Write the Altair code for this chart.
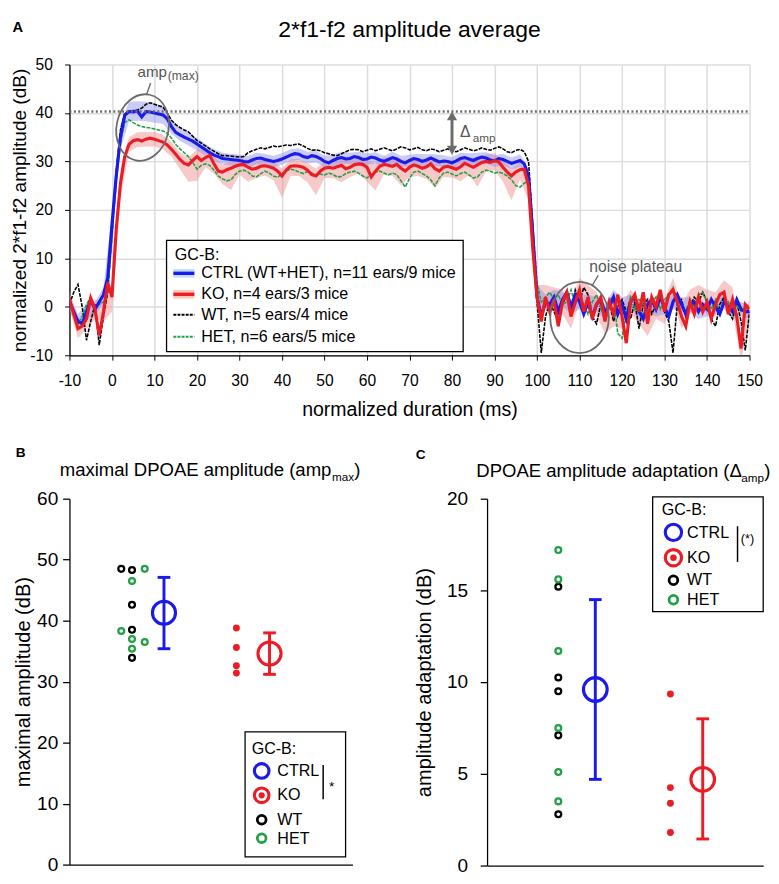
import altair as alt
import pandas as pd

FONT = "Liberation Sans"
BLUE = "#1a1aeb"
RED = "#ec1c24"
GREEN = "#21a045"
GRAY = "#6b6b6b"
TXTGRAY = "#555555"

# ---------------- Panel A data (1 ms steps, -10 .. 150 ms) ----------------
t_ms = list(range(-10, 151))
ctrl_db = [
    1.0, -1.0, -3.0, -3.5, -1.0, 1.5, -0.5, 1.0, 2.5, 6.0,
    17.0, 27.0, 35.0, 39.5, 40.3, 40.2, 40.4, 39.2, 40.3, 40.2,
    40.0, 39.8, 39.6, 38.8, 37.2, 36.0, 35.5, 35.0, 34.6, 34.2,
    33.6, 33.0, 32.4, 31.8, 31.3, 31.0, 30.6, 30.5, 30.4, 30.3,
    30.2, 30.0, 29.9, 30.3, 30.6, 30.7, 30.4, 30.2, 30.0, 30.2,
    30.5, 30.9, 31.3, 31.6, 31.5, 31.0, 30.8, 31.2, 31.0, 30.6,
    30.0, 29.7, 30.2, 30.6, 30.8, 30.5, 30.6, 31.0, 30.8, 30.4,
    30.5, 30.9, 30.7, 30.3, 30.0, 30.4, 30.8, 30.5, 30.0, 29.7,
    30.2, 30.6, 30.4, 30.0, 30.3, 30.7, 30.3, 29.9, 30.1, 30.0,
    29.7, 30.1, 30.6, 30.8, 30.5, 30.2, 30.6, 30.9, 30.7, 30.3,
    30.1, 30.6, 30.4, 30.0, 29.6, 29.9, 30.2, 29.5, 27.0, 15.0,
    2.0, -2.0, 1.0, 0.5, 2.0, -1.0, 1.5, 3.0, 0.0, 2.5,
    1.0, -1.5, 1.0, -2.0, 0.5, 1.5, -1.0, 0.0, 2.0, -1.5,
    0.5, -2.5, 1.0, 2.0, -1.0, -2.5, 0.5, 1.5, -0.5, 2.0,
    0.0, -2.0, 1.0, 2.5, 0.5, -1.5, 0.5, 1.0, -1.0, 0.5,
    -0.5, 1.5, 0.0, -1.5, 1.0, 0.0, -1.0, 1.5, -0.5, -1.0,
    -1.0,
]
ko_db = [
    1.5, -1.5, -4.5, -4.0, -2.5, 1.8, -0.5, -5.9, -1.0, 5.0,
    2.0, 16.0, 25.5, 31.0, 33.5, 34.3, 34.5, 34.2, 34.6, 34.8,
    34.6, 34.3, 34.0, 33.4, 32.5, 31.5, 30.4, 29.6, 29.3, 30.2,
    31.0, 30.2, 30.8, 31.2, 29.5, 28.0, 27.8, 28.3, 28.6, 29.0,
    29.3, 29.4, 28.8, 28.4, 28.6, 29.0, 29.1, 28.9, 28.6, 28.0,
    27.0, 28.2, 29.0, 29.1, 29.0, 28.8, 28.2, 27.3, 27.0, 28.0,
    28.6, 28.8, 28.6, 28.9, 29.2, 28.5, 28.8, 29.3, 29.5, 29.4,
    28.8, 26.8, 28.0, 29.0, 29.4, 29.2, 29.0, 29.4, 28.6, 28.0,
    28.8, 29.3, 29.0, 28.6, 28.9, 29.5, 28.5, 28.0, 28.8, 29.0,
    28.7, 28.4, 28.9, 29.6, 29.2, 28.8, 29.3, 29.8, 30.0, 29.8,
    30.2, 29.9, 28.8, 27.8, 27.0, 27.8, 28.3, 28.4, 25.0, 12.0,
    2.0, -3.0, 2.0, -1.0, 1.5, -4.0, 1.0, 3.0, -2.0, 1.0,
    3.5, -1.0, 2.0, -2.5, 0.5, 2.0, -3.0, 1.0, -1.5, 2.5,
    -2.0, -7.5, 1.0, 2.5, -1.0, 3.0, -3.5, 2.0, 0.0, 3.5,
    -1.0, 2.5, 3.5, 1.0, -2.0, -4.0, 1.0, -1.5, 2.0, -1.0,
    1.0, -2.5, 0.5, 2.5, 3.0, -1.5, 1.5, -2.0, -8.6, 0.5,
    -0.5,
]
wt_db = [
    0.5, 3.0, 4.6, 0.0, -6.9, -3.0, 0.5, -7.9, -2.0, 3.0,
    15.0, 28.0, 36.5, 40.0, 40.3, 40.5, 40.6, 41.0, 41.8, 42.1,
    41.8, 41.5, 41.2, 40.0, 38.5, 37.6, 37.0, 36.5, 36.1, 35.2,
    34.3, 33.8, 33.2, 32.6, 32.1, 31.6, 31.2, 31.2, 31.1, 31.0,
    30.9, 31.0, 31.8, 32.2, 32.5, 32.8, 32.6, 32.9, 33.2, 33.0,
    33.2, 33.4, 33.3, 33.5, 33.6, 33.2, 32.7, 32.3, 32.4, 32.2,
    31.8, 31.6, 31.3, 31.2, 31.6, 32.0, 32.4, 32.5, 32.4, 32.0,
    32.3, 32.6, 32.2, 32.5, 32.8, 32.5, 32.2, 32.6, 33.0, 32.8,
    32.4, 32.6, 32.9, 32.4, 32.2, 32.6, 32.4, 32.0, 32.3, 32.6,
    32.2, 32.0, 32.4, 32.8, 32.5, 32.2, 32.4, 32.8, 32.5, 32.3,
    32.7, 33.0, 32.6, 32.0, 31.8, 32.3, 32.5, 32.0, 30.0, 17.0,
    1.0, -9.5, -2.0, 1.0, -1.0, -3.0, 0.5, 2.5, -1.0, 3.5,
    1.0, 4.0, 2.5, -2.0, -3.5, 0.5, -2.0, 1.0, -3.0, 0.0,
    1.5, -1.0, -2.5, 1.0, -4.5, 0.5, 1.5, -1.5, 0.5, 2.0,
    -1.0, -3.0, -9.5, 0.5, 1.5, -2.0, 0.0, 2.0, 1.0, 3.0,
    1.0, -2.5, -4.0, 0.5, 2.0, -1.0, -2.5, 1.0, -3.0, -9.0,
    -1.0,
]
het_db = [
    1.0, -1.0, -3.5, -2.0, 0.5, 2.0, 0.0, 0.5, 1.0, 3.5,
    14.0, 26.0, 34.0, 38.0, 38.6, 38.0, 37.5, 37.2, 37.0, 36.9,
    36.7, 36.5, 36.3, 35.8, 34.8, 33.5, 32.6, 31.8, 31.0, 29.8,
    28.4, 29.2, 29.5, 29.2, 28.2, 27.0, 26.4, 26.0, 26.2, 27.3,
    28.0, 28.2, 27.8, 27.0, 26.8, 27.5, 28.0, 27.6, 27.0, 26.7,
    27.5, 28.0, 28.4, 28.2, 27.8, 27.5, 27.9, 27.6, 27.2, 27.4,
    27.2, 27.6, 27.3, 26.8, 26.9, 27.5, 27.8, 28.0, 27.6, 27.0,
    26.6, 27.2, 27.8, 28.0, 27.6, 27.2, 27.6, 27.3, 26.0, 24.7,
    26.5, 27.8, 28.0, 27.5, 27.0, 26.2, 25.0, 26.6, 27.6, 27.8,
    27.4, 27.0, 27.5, 27.8, 27.2, 26.6, 26.8, 27.8, 28.2, 28.0,
    27.6, 27.8, 27.5, 27.0, 26.2, 25.0, 24.7, 25.5, 26.0, 17.0,
    5.0, 1.0, 2.0, 3.0, 1.5, 2.5, 0.5, 1.0, 3.5, 0.5,
    2.0, 0.5, -1.5, 1.0, 2.5, 0.0, -3.0, 1.5, 2.0, -5.5,
    -6.5, -1.0, 2.0, -0.5, 1.5, 0.5, -1.0, 1.0, 2.0, -0.5,
    1.5, 2.5, 4.0, 1.5, 0.5, -1.0, 1.5, 0.0, 2.5, 3.0,
    1.0, -0.5, 1.5, -1.0, 0.5, 1.0, -1.5, 0.5, -1.0, 0.0,
    -1.0,
]
# error bands (2 ms steps)
t_band = list(range(-10, 151, 2))
ctrl_sem = [
    1.5, 1.5, 1.5, 1.5, 1.5, 2.5, 2.5, 2.0, 2.0, 2.0,
    2.0, 1.8, 1.5, 1.3, 1.3, 1.3, 1.2, 1.2, 1.2, 1.2,
    1.2, 1.2, 1.2, 1.2, 1.2, 1.2, 1.2, 1.2, 1.2, 1.2,
    1.2, 1.2, 1.2, 1.2, 1.2, 1.2, 1.2, 1.2, 1.2, 1.2,
    1.2, 1.2, 1.2, 1.2, 1.2, 1.2, 1.2, 1.2, 1.2, 1.2,
    1.2, 1.2, 1.2, 1.3, 1.5, 2.5, 1.5, 1.5, 1.5, 1.5,
    1.5, 1.5, 1.5, 1.5, 1.5, 1.5, 1.5, 1.5, 1.5, 1.5,
    1.5, 1.5, 1.5, 1.5, 1.5, 1.5, 1.5, 1.5, 1.5, 1.5,
    1.5,
]
ko_sem_lo = [
    2.0, 2.0, 2.0, 2.0, 2.0, 3.0, 3.0, 1.5, 1.5, 1.5,
    1.5, 1.5, 1.5, 2.0, 3.5, 5.0, 2.0, 2.0, 2.5, 4.5,
    2.0, 3.0, 2.0, 2.0, 2.5, 4.5, 2.0, 2.0, 2.5, 4.0,
    2.0, 2.0, 3.5, 2.0, 2.0, 3.0, 4.0, 2.0, 2.0, 3.5,
    2.0, 2.0, 2.5, 4.0, 2.0, 2.0, 3.0, 2.0, 4.5, 2.0,
    2.0, 3.0, 5.0, 2.0, 3.0, 2.5, 2.5, 2.5, 2.5, 2.5,
    2.5, 2.5, 2.5, 2.5, 2.5, 2.5, 2.5, 2.5, 2.5, 2.5,
    2.5, 2.5, 2.5, 2.5, 2.5, 2.5, 2.5, 2.5, 2.5, 2.5,
    2.5,
]
ko_sem_hi = [
    2.0, 2.0, 2.0, 2.0, 2.0, 3.0, 3.0, 1.5, 1.5, 1.5,
    1.5, 1.5, 1.5, 1.5, 1.5, 1.5, 1.5, 1.5, 1.5, 1.5,
    1.5, 1.5, 1.5, 1.5, 1.5, 1.5, 1.5, 1.5, 1.5, 1.5,
    1.5, 1.5, 1.5, 1.5, 1.5, 1.5, 1.5, 1.5, 1.5, 1.5,
    1.5, 1.5, 1.5, 1.5, 1.5, 1.5, 1.5, 1.5, 1.5, 1.5,
    1.5, 1.5, 1.5, 1.5, 2.5, 2.5, 2.5, 2.5, 2.5, 2.5,
    2.5, 2.5, 2.5, 2.5, 2.5, 2.5, 2.5, 2.5, 2.5, 2.5,
    2.5, 2.5, 2.5, 2.5, 2.5, 2.5, 2.5, 2.5, 2.5, 2.5,
    2.5,
]
amp_max_level = 40.3

# ---------------- Panel B data ----------------
b_wt = [48.5, 48.3, 42.6, 38.5, 33.9]
b_wt_pos = [1.83, 2.21, 2.21, 2.21, 2.21]
b_het = [48.5, 46.5, 38.3, 37.0, 36.5, 35.4]
b_het_pos = [2.66, 2.21, 1.83, 2.21, 2.66, 2.21]
b_ko = [38.8, 35.6, 32.6, 31.4]
b_ko_pos = [5.9, 5.9, 5.9, 5.9]
b_means = [41.3, 34.6]
b_lo = [35.4, 31.2]
b_hi = [47.1, 38.0]
b_mean_pos = [3.34, 7.07]

# ---------------- Panel C data ----------------
c_wt = [15.2, 10.25, 9.5, 7.1, 2.8]
c_het = [17.2, 15.6, 11.7, 7.5, 5.1, 3.5]
c_ko = [9.35, 4.25, 3.4, 1.8]
c_grp_pos = [2.58, 6.64]
c_means = [9.6, 4.7]
c_lo = [4.7, 1.45]
c_hi = [14.5, 8.0]
c_mean_pos = [3.92, 7.81]

ONE = pd.DataFrame({"k": [0]})
HYPHEN = "'' + datum.value"


def ptext(txt, x, y, size, color="black", weight="normal", align="left", baseline="middle"):
    return alt.Chart(ONE).mark_text(text=txt, fontSize=size, fontWeight=weight, color=color,
                                    align=align, baseline=baseline, font=FONT).encode(
        x=alt.value(x), y=alt.value(y))


def prule(x1, x2, y1, y2, color, width, dash=None):
    kw = dict(color=color, strokeWidth=width)
    if dash:
        kw["strokeDash"] = dash
    return alt.Chart(ONE).mark_rule(**kw).encode(
        x=alt.value(x1), x2=alt.value(x2), y=alt.value(y1), y2=alt.value(y2))


def pbox(x1, x2, y1, y2):
    return alt.Chart(ONE).mark_rect(fill="white", stroke="black", strokeWidth=1.3).encode(
        x=alt.value(x1), x2=alt.value(x2), y=alt.value(y1), y2=alt.value(y2))


def pring(x, y, size, color, sw):
    return alt.Chart(ONE).mark_point(shape="circle", size=size, filled=False, color=color,
                                     strokeWidth=sw, opacity=1).encode(x=alt.value(x), y=alt.value(y))


def pdot(x, y, size, color):
    return alt.Chart(ONE).mark_circle(size=size, color=color, opacity=1).encode(
        x=alt.value(x), y=alt.value(y))


# ================= Panel A =================
sxA = alt.Scale(domain=[-10, 150], nice=False, zero=False)
syA = alt.Scale(domain=[-10, 50], nice=False, zero=False)
axA_x = alt.Axis(values=list(range(-10, 151, 10)), title="normalized duration (ms)",
                 labelFontSize=16, titleFontSize=20, titleFontWeight="normal",
                 tickSize=5, labelPadding=13, titlePadding=12, grid=True,
                 gridColor="#dcdcdc", gridWidth=1.5, domainColor="black", tickColor="black",
                 labelColor="black", titleColor="black", labelFlush=False, domainWidth=1.3,
                 labelExpr=HYPHEN)
axA_y = alt.Axis(values=list(range(-10, 51, 10)), title="normalized 2*f1-f2 amplitude (dB)",
                 labelFontSize=16, titleFontSize=19.5, titleFontWeight="normal",
                 tickSize=5, labelPadding=12.5, titlePadding=0, grid=True,
                 gridColor="#dcdcdc", gridWidth=1.5, domainColor="black", tickColor="black",
                 labelColor="black", titleColor="black", domainWidth=1.3, labelExpr=HYPHEN)
XA = alt.X("t:Q", scale=sxA, axis=axA_x)
YA = alt.Y("val:Q", scale=syA, axis=axA_y)


def series_df(vals):
    return pd.DataFrame({"t": t_ms, "val": vals})


ko_band = pd.DataFrame({"t": t_band,
                        "val": [v - s for v, s in zip(ko_db[::2], ko_sem_lo)],
                        "val2": [v + s for v, s in zip(ko_db[::2], ko_sem_hi)]})
ctrl_band = pd.DataFrame({"t": t_band,
                          "val": [v - s for v, s in zip(ctrl_db[::2], ctrl_sem)],
                          "val2": [v + s for v, s in zip(ctrl_db[::2], ctrl_sem)]})

layersA = [
    alt.Chart(ko_band).mark_area(color="#ee8888", opacity=0.45, clip=True).encode(x=XA, y=YA, y2="val2"),
    alt.Chart(ctrl_band).mark_area(color="#8c8cf0", opacity=0.45, clip=True).encode(x=XA, y=YA, y2="val2"),
    alt.Chart(series_df(wt_db)).mark_line(color="black", strokeWidth=1.6, strokeDash=[4, 1.2], clip=True).encode(x=XA, y=YA),
    alt.Chart(series_df(het_db)).mark_line(color=GREEN, strokeWidth=1.6, strokeDash=[4, 1.2], clip=True).encode(x=XA, y=YA),
    alt.Chart(series_df(ctrl_db)).mark_line(color=BLUE, strokeWidth=3.2, clip=True).encode(x=XA, y=YA),
    alt.Chart(series_df(ko_db)).mark_line(color=RED, strokeWidth=3.2, clip=True).encode(x=XA, y=YA),
]

# dotted amp(max) level line
layersA.append(alt.Chart(pd.DataFrame({"t": [-10], "t2": [150], "val": [amp_max_level]})).mark_rule(
    color=GRAY, strokeWidth=2.5, strokeDash=[2, 2.5]).encode(x=XA, x2="t2", y=YA))

AMP_ELLIPSE = "M0,-1A0.776,1,0,1,1,0,1A0.776,1,0,1,1,0,-1Z"
NOISE_ELLIPSE = "M0,-1A0.822,1,0,1,1,0,1A0.822,1,0,1,1,0,-1Z"
layersA.append(alt.Chart(pd.DataFrame({"t": [7.2], "val": [37.0]})).mark_point(
    shape=AMP_ELLIPSE, size=4720, filled=False, color=GRAY, strokeWidth=1.8, opacity=1, angle=12).encode(x=XA, y=YA))
layersA.append(alt.Chart(pd.DataFrame({"t": [110.0], "val": [-2.2]})).mark_point(
    shape=NOISE_ELLIPSE, size=5329, filled=False, color=GRAY, strokeWidth=1.8, opacity=1).encode(x=XA, y=YA))

# leader lines
layersA.append(alt.Chart(pd.DataFrame({"t": [9.1, 114.4], "t2": [8.1, 112.9],
                                       "val": [46.2, 6.5], "val2": [43.7, 4.3]})).mark_rule(
    color=GRAY, strokeWidth=1.4).encode(x=XA, x2="t2", y=YA, y2="val2"))

# delta amp arrow
layersA.append(alt.Chart(pd.DataFrame({"t": [80.0], "val": [39.4], "val2": [32.3]})).mark_rule(
    color=GRAY, strokeWidth=3).encode(x=XA, y=YA, y2="val2"))
layersA.append(alt.Chart(pd.DataFrame({"t": [80.0], "val": [39.4]})).mark_point(
    shape="triangle-up", size=110, filled=True, color=GRAY, opacity=1).encode(x=XA, y=YA))
layersA.append(alt.Chart(pd.DataFrame({"t": [80.0], "val": [32.3]})).mark_point(
    shape="triangle-down", size=110, filled=True, color=GRAY, opacity=1).encode(x=XA, y=YA))


def dtext(txt, t, v, size, color=TXTGRAY):
    return alt.Chart(pd.DataFrame({"t": [t], "val": [v]})).mark_text(
        text=txt, fontSize=size, color=color, align="left", baseline="alphabetic", font=FONT).encode(x=XA, y=YA)


layersA += [
    dtext("amp", 6.0, 47.4, 15.5),
    dtext("(max)", 13.1, 46.8, 12.5),
    dtext("\u0394", 81.9, 35.1, 16),
    dtext("amp", 84.9, 34.1, 12),
    dtext("noise plateau", 112.3, 7.1, 16),
]

# legend of panel A (pixel positions inside the plot)
layersA += [
    pbox(99.5, 403.5, 180.3, 294.3),
    ptext("GC-B:", 108, 195, 16.5),
    prule(106.5, 128, 214, 214, "#bfe3f5", 9),
    prule(106.5, 128, 214, 214, BLUE, 3.5),
    prule(106.5, 128, 235.5, 235.5, "#f8cab9", 9),
    prule(106.5, 128, 235.5, 235.5, RED, 3.5),
    prule(106.5, 128, 256.5, 256.5, "black", 2, [3, 1.2]),
    prule(106.5, 128, 279, 279, GREEN, 2, [3, 1.2]),
    ptext("CTRL (WT+HET), n=11 ears/9 mice", 135, 214, 16.5),
    ptext("KO, n=4 ears/3 mice", 135, 235.5, 16.5),
    ptext("WT, n=5 ears/4 mice", 135, 256.5, 16.5),
    ptext("HET, n=6 ears/5 mice", 135, 279, 16.5),
    ptext("2*f1-f2 amplitude average", 348.5, -27.7, 23.5, align="center", baseline="alphabetic"),
    ptext("A", -58.5, -33.7, 15, weight="bold", baseline="alphabetic"),
]

panelA = alt.layer(*layersA).properties(width=697, height=298)


# ================= Panels B and C =================
def dot_panel(wt, wt_pos, het, het_pos, ko, ko_pos, means, lo, hi, mean_pos,
              ydom, yvals, ytitle, lab_pad, title_pad, mean_size):
    sx = alt.Scale(domain=[0, 10], nice=False, zero=False)
    sy = alt.Scale(domain=ydom, nice=False, zero=False)
    ax_x = alt.Axis(labels=False, ticks=False, title=None, grid=False,
                    domainColor="black", domainWidth=1.3)
    ax_y = alt.Axis(values=yvals, grid=False, tickSize=7, tickColor="black", tickWidth=1.3,
                    domainColor="black", domainWidth=1.3, labelFontSize=19.5, labelPadding=lab_pad,
                    labelColor="black", title=ytitle, titleFontSize=20.5, titleFontWeight="normal",
                    titleColor="black", titlePadding=title_pad)
    X = alt.X("pos:Q", scale=sx, axis=ax_x)
    Y = alt.Y("val:Q", scale=sy, axis=ax_y)
    wt_df = pd.DataFrame({"pos": wt_pos, "val": wt})
    het_df = pd.DataFrame({"pos": het_pos, "val": het})
    ko_df = pd.DataFrame({"pos": ko_pos, "val": ko})
    m_df = pd.DataFrame({"pos": mean_pos, "val": means, "lo": lo, "hi": hi,
                         "grp": ["CTRL", "KO"]})
    col = alt.Color("grp:N", scale=alt.Scale(domain=["CTRL", "KO"], range=[BLUE, RED]), legend=None)
    layers = [
        alt.Chart(wt_df).mark_point(shape="circle", size=36, filled=False, color="black",
                                    strokeWidth=2.3, opacity=1).encode(x=X, y=Y),
        alt.Chart(het_df).mark_point(shape="circle", size=36, filled=False, color=GREEN,
                                     strokeWidth=2.3, opacity=1).encode(x=X, y=Y),
        alt.Chart(ko_df).mark_circle(size=50, color=RED, opacity=1).encode(x=X, y=Y),
        alt.Chart(m_df).mark_rule(strokeWidth=3).encode(x=X, y=alt.Y("lo:Q", scale=sy, axis=ax_y),
                                                        y2="hi", color=col),
        alt.Chart(m_df).mark_tick(orient="horizontal", size=13, thickness=3, opacity=1).encode(
            x=X, y=alt.Y("lo:Q", scale=sy, axis=ax_y), color=col),
        alt.Chart(m_df).mark_tick(orient="horizontal", size=13, thickness=3, opacity=1).encode(
            x=X, y=alt.Y("hi:Q", scale=sy, axis=ax_y), color=col),
        alt.Chart(m_df).mark_point(shape="circle", size=mean_size, filled=False, strokeWidth=3.2,
                                   opacity=1).encode(x=X, y=Y, color=col),
    ]
    return layers


layersB = dot_panel(b_wt, b_wt_pos, b_het, b_het_pos, b_ko, b_ko_pos, b_means, b_lo, b_hi,
                    b_mean_pos, [0, 60], list(range(0, 61, 10)), "maximal amplitude (dB)",
                    5, 3, 560)
layersB += [
    ptext("maximal DPOAE amplitude (amp", -10, -23.3, 19, baseline="alphabetic"),
    ptext("max", 269, -18.3, 12, baseline="alphabetic"),
    ptext(")", 292, -23.3, 19, baseline="alphabetic"),
    ptext("B", -55, -42.7, 14, weight="bold", baseline="alphabetic"),
    pbox(180, 283, 239, 367),
    ptext("GC-B:", 186.7, 257, 16.5),
    pring(197, 279, 225, BLUE, 3.2),
    pring(197, 304, 225, RED, 3.2),
    pdot(197, 304, 40, RED),
    pring(197, 329, 80, "black", 2.8),
    pring(197, 348, 80, GREEN, 2.8),
    ptext("CTRL", 213, 279, 16.5),
    ptext("KO", 213, 304, 16.5),
    ptext("WT", 213, 329, 16.5),
    ptext("HET", 213, 349, 16.5),
    prule(260, 260, 273, 308, "black", 1.5),
    ptext("*", 266, 296, 14),
]
panelB = alt.layer(*layersB).properties(width=290, height=375)

c_wt_pos = [c_grp_pos[0]] * len(c_wt)
c_het_pos = [c_grp_pos[0]] * len(c_het)
c_ko_pos = [c_grp_pos[1]] * len(c_ko)
layersC = dot_panel(c_wt, c_wt_pos, c_het, c_het_pos, c_ko, c_ko_pos, c_means, c_lo, c_hi,
                    c_mean_pos, [0, 20], list(range(0, 21, 5)), "amplitude adaptation (dB)",
                    13, 11.8, 590)
layersC += [
    ptext("DPOAE amplitude adaptation (\u0394", -11, -21.8, 19, baseline="alphabetic"),
    ptext("amp", 260.5, -16.8, 12, baseline="alphabetic"),
    ptext(")", 284, -21.8, 19, baseline="alphabetic"),
    ptext("C", -73, -41.2, 14, weight="bold", baseline="alphabetic"),
    pbox(169.7, 283, -1.8, 115.8),
    ptext("GC-B:", 179, 11.5, 16.5),
    pring(191, 34.5, 280, BLUE, 3.2),
    pring(191, 60.5, 280, RED, 3.2),
    pdot(191, 60.5, 45, RED),
    pring(191, 83.5, 80, "black", 2.8),
    pring(191, 103.5, 80, GREEN, 2.8),
    ptext("CTRL", 205, 34.8, 16.5),
    ptext("KO", 205, 60.8, 16.5),
    ptext("WT", 205, 83.8, 16.5),
    ptext("HET", 205, 103.8, 16.5),
    prule(256.7, 256.7, 28.2, 64.8, "black", 1.5),
    ptext("(*)", 260, 41.5, 13),
]
panelC = alt.layer(*layersC).properties(width=283, height=376)

chart = alt.vconcat(
    panelA,
    alt.hconcat(panelB, panelC, spacing=55),
    spacing=27,
).properties(padding={"left": 2, "top": 0, "right": 0, "bottom": 0}).configure(
    font=FONT).configure_view(stroke=None)

chart.save("out.html", embed_options={"renderer": "svg", "actions": False})
